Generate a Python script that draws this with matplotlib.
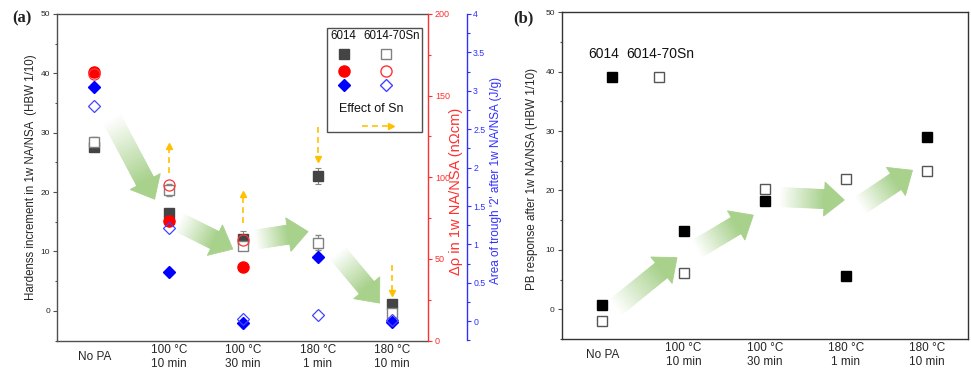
import numpy as np
import matplotlib
matplotlib.use("Agg")
import matplotlib.pyplot as plt
from matplotlib.patches import Polygon, Rectangle
from matplotlib.ticker import MultipleLocator

plt.rcParams['font.family'] = ['Liberation Sans', 'DejaVu Sans']

# ---------------- data ----------------
categories = ['No PA', '100 °C\n10 min', '100 °C\n30 min', '180 °C\n1 min', '180 °C\n10 min']

# panel (a) – hardness increment (HBW 1/10)
hard_6014 = [27.6, 16.4, 12.1, 22.7, 1.1]
hard_6014_err = [0.3, 0.4, 1.3, 1.4, 0.3]
hard_sn = [28.5, 20.3, 11.0, 11.5, -0.4]
hard_sn_err = [0.7, 1.0, 0.6, 1.2, 0.5]

# panel (a) – resistivity change (nOhm cm)
res_6014 = [164.2, 73.3, 45.0, np.nan, np.nan]
res_sn = [163.0, 95.5, 61.4, np.nan, np.nan]

# panel (a) – area of trough '2' (J/g)
trough_6014 = [3.05, 0.64, -0.02, 0.84, -0.01]
trough_sn = [2.80, 1.21, 0.03, 0.08, 0.02]

# panel (a) – "Effect of Sn" arrows (hardness units)
sn_x = [1, 2, 3, 4]
sn_from = [23.2, 14.8, 31.0, 7.7]
sn_to = [27.8, 19.6, 25.6, 3.0]

# panel (b) – PB response (HBW 1/10)
pb_6014 = [0.8, 13.2, 18.2, 5.6, 29.0]
pb_sn = [-2.0, 6.1, 20.2, 22.0, 23.2]

# green trend arrows (x in category units, y in left-axis units)
arrows_a = [((0.24, 32.3), (0.81, 18.8)),
            ((1.14, 14.9), (1.86, 10.4)),
            ((2.17, 12.0), (2.87, 13.35)),
            ((3.27, 9.7), (3.83, 1.3))]
arrows_b = [((0.17, 0.4), (0.92, 8.7)),
            ((1.17, 10.2), (1.86, 15.85)),
            ((2.19, 18.9), (2.98, 18.4)),
            ((3.18, 17.5), (3.82, 23.4))]

x = np.arange(len(categories))

# ---------------- figure ----------------
W, H = 971, 372
fig = plt.figure(figsize=(W / 100, H / 100), dpi=100)

def px_ax(l, t, r, b):
    return fig.add_axes([l / W, 1 - b / H, (r - l) / W, (b - t) / H])

axA = px_ax(57, 14, 428, 340.5)
axB = px_ax(561.7, 12.3, 967.7, 339)

GREEN = np.array([0.66, 0.82, 0.55])
SPINE = '#505050'
TXT = '#262626'


def grad_arrow(ax, p0, p1, body=19, head_w=34, head_l=20, n=40):
    T = ax.transData
    a = T.transform(p0)
    b = T.transform(p1)
    d = b - a
    L = np.hypot(*d)
    u = d / L
    nrm = np.array([-u[1], u[0]])
    base = b - head_l * u
    inv = T.inverted()
    for i in range(n):
        t0 = i / n
        t1 = (i + 1) / n
        s0 = a + (base - a) * t0
        s1 = a + (base - a) * t1
        pts = np.array([s0 + nrm * body / 2, s1 + nrm * body / 2,
                        s1 - nrm * body / 2, s0 - nrm * body / 2])
        f = (i + 0.5) / n
        col = (1 - f) * np.array([1, 1, 1]) + f * GREEN
        ax.add_patch(Polygon(inv.transform(pts), closed=True, facecolor=col,
                             edgecolor=col, lw=0.6, zorder=0.5))
    pts = np.array([base + nrm * head_w / 2, b, base - nrm * head_w / 2])
    ax.add_patch(Polygon(inv.transform(pts), closed=True, facecolor=GREEN,
                         edgecolor=GREEN, lw=0.6, zorder=0.5))


def style_main(ax):
    ax.set_xlim(-0.5, 4.48)
    ax.set_ylim(-5, 50)
    ax.yaxis.set_major_locator(MultipleLocator(10))
    ax.yaxis.set_minor_locator(MultipleLocator(5))
    ax.tick_params(axis='y', which='major', direction='out', length=3, width=0.8,
                   colors=SPINE, labelsize=6, labelcolor=TXT, pad=2)
    ax.tick_params(axis='y', which='minor', direction='out', length=1.8, width=0.8, colors=SPINE)
    ax.set_xticks([])
    for s in ax.spines.values():
        s.set_color(SPINE)
        s.set_linewidth(1.0)
    for xi, lab in zip(x, categories):
        ax.text(xi, -0.05, lab, transform=ax.get_xaxis_transform(), ha='center',
                va='center', fontsize=8.5, color=TXT, linespacing=1.2)

# ================= panel (a) =================
style_main(axA)
axA.set_xlim(-0.5, 4.48)
axA.spines['right'].set_visible(False)

axR = axA.twinx()
axBl = axA.twinx()
axR.set_ylim(0, 200)
axBl.set_ylim(-0.25, 4)
axBl.spines['right'].set_position(('outward', 28))
for t in (axR, axBl):
    for k in ('left', 'top', 'bottom'):
        t.spines[k].set_visible(False)
axR.spines['right'].set_color('#ff3030')
axR.spines['right'].set_linewidth(1.0)
axBl.spines['right'].set_color('#3030ff')
axBl.spines['right'].set_linewidth(1.0)
axR.yaxis.set_major_locator(MultipleLocator(50))
axR.yaxis.set_minor_locator(MultipleLocator(25))
axR.tick_params(axis='y', which='major', length=3, width=0.8, colors='#ff3030', labelsize=6.5, pad=2)
axR.tick_params(axis='y', which='minor', length=1.8, width=0.8, colors='#ff3030')
axBl.yaxis.set_major_locator(MultipleLocator(0.5))
axBl.yaxis.set_minor_locator(MultipleLocator(0.25))
axBl.set_yticks(np.arange(0, 4.01, 0.5))
axBl.set_yticklabels(['0', '0.5', '1', '1.5', '2', '2.5', '3', '3.5', '4'])
axBl.tick_params(axis='y', which='major', length=3, width=0.8, colors='#3030ff', labelsize=6.3, pad=1.5)
axBl.tick_params(axis='y', which='minor', length=1.8, width=0.8, colors='#3030ff')

# arrows
for p0, p1 in arrows_a:
    grad_arrow(axA, p0, p1)

# hardness squares
axA.errorbar(x, hard_6014, yerr=hard_6014_err, fmt='s', ms=7, mfc='#444444', mec='#444444',
             ecolor='#888888', elinewidth=0.8, capsize=2.5, capthick=0.8, zorder=3)
axA.errorbar(x, hard_sn, yerr=hard_sn_err, fmt='s', ms=7, mfc='white', mec='#808080', mew=1.0,
             ecolor='#888888', elinewidth=0.8, capsize=2.5, capthick=0.8, zorder=4)

# effect of Sn arrows
ORANGE = '#ffc000'
for xi, y0, y1 in zip(sn_x, sn_from, sn_to):
    axA.plot([xi, xi], [y0, y1], ls=(0, (3.5, 2.5)), color=ORANGE, lw=1.2, zorder=2)
    axA.plot(xi, y1, marker='^' if y1 > y0 else 'v', ms=4.5, color=ORANGE, mec=ORANGE, zorder=2)

# resistivity circles
axR.plot(x, res_6014, 'o', ms=8, mfc='#ff0000', mec='#ff0000', ls='none', zorder=3)
axR.plot(x, res_sn, 'o', ms=8, mfc='none', mec='#ff3333', mew=0.9, ls='none', zorder=4)

# trough diamonds
axBl.plot(x, trough_6014, 'D', ms=6.2, mfc='#0000ff', mec='#0000ff', ls='none', zorder=3)
axBl.plot(x, trough_sn, 'D', ms=6.2, mfc='none', mec='#4444ff', mew=0.9, ls='none', zorder=4)

# axis labels
axA.text(-0.07, 0.5, 'Hardenss increment in 1w NA/NSA  (HBW 1/10)', transform=axA.transAxes,
         rotation=90, ha='center', va='center', fontsize=8.3, color=TXT)
axA.text(1.076, 0.458, 'Δρ in 1w NA/NSA (nΩcm)', transform=axA.transAxes,
         rotation=90, ha='center', va='center', fontsize=10.5, color='#ff3030')
axA.text(1.182, 0.49, "Area of trough '2' after 1w NA/NSA (J/g)", transform=axA.transAxes,
         rotation=90, ha='center', va='center', fontsize=8.5, color='#3030ff')

# legend box (a)
axL = axA
axL.add_patch(Rectangle((0.7286, 0.6395), 0.983 - 0.7286, 0.956 - 0.6395, transform=axA.transAxes,
                        facecolor='white', edgecolor=SPINE, lw=1.0, zorder=6))
axL.text(0.736, 0.9326, '6014', transform=axA.transAxes, fontsize=8.3, ha='left', va='center',
         color='#111111', zorder=7)
axL.text(0.8256, 0.9326, '6014-70Sn', transform=axA.transAxes, fontsize=8.3, ha='left', va='center',
         color='#111111', zorder=7)
c1, c2 = 0.7736, 0.8868
axL.plot([c1], [0.8766], 's', ms=7, mfc='#444444', mec='#444444', transform=axA.transAxes, zorder=7)
axL.plot([c2], [0.8766], 's', ms=7, mfc='white', mec='#808080', transform=axA.transAxes, zorder=7)
axL.plot([c1], [0.8263], 'o', ms=8, mfc='#ff0000', mec='#ff0000', transform=axA.transAxes, zorder=7)
axL.plot([c2], [0.8263], 'o', ms=8, mfc='none', mec='#ff3333', transform=axA.transAxes, zorder=7)
axL.plot([c1], [0.7816], 'D', ms=6.2, mfc='#0000ff', mec='#0000ff', transform=axA.transAxes, zorder=7)
axL.plot([c2], [0.7816], 'D', ms=6.2, mfc='none', mec='#4444ff', transform=axA.transAxes, zorder=7)
axL.text(0.761, 0.7081, 'Effect of Sn', transform=axA.transAxes, fontsize=9, ha='left', va='center',
         color='#111111', zorder=7)
axL.plot([0.8213, 0.897], [0.657, 0.657], ls=(0, (3.5, 2.5)), color=ORANGE, lw=1.2,
         transform=axA.transAxes, zorder=7)
axL.plot([0.899], [0.657], '>', ms=4.5, color=ORANGE, transform=axA.transAxes, zorder=7)

fig.text(12 / W, 1 - 18 / H, '(a)', fontsize=12, fontweight='bold', family='Liberation Serif',
         ha='left', va='center', color='#222222')

# ================= panel (b) =================
style_main(axB)
axB.set_xlim(-0.5, 4.5)
for s in axB.spines.values():
    s.set_color('#333333')
for p0, p1 in arrows_b:
    grad_arrow(axB, p0, p1)
axB.plot(x, pb_6014, 's', ms=7, mfc='black', mec='black', ls='none', zorder=3)
axB.plot(x, pb_sn, 's', ms=7, mfc='white', mec='#555555', mew=1.0, ls='none', zorder=3)
axB.text(-0.074, 0.49, 'PB response after 1w NA/NSA (HBW 1/10)', transform=axB.transAxes,
         rotation=90, ha='center', va='center', fontsize=8.4, color=TXT)
axB.text(-0.17, 43.0, '6014', fontsize=10, ha='left', va='center', color='#111111')
axB.text(0.30, 43.0, '6014-70Sn', fontsize=10, ha='left', va='center', color='#111111')
axB.plot([0.12], [39.1], 's', ms=7, mfc='black', mec='black', zorder=3)
axB.plot([0.70], [39.1], 's', ms=7, mfc='white', mec='#555555', zorder=3)

fig.text(513 / W, 1 - 18 / H, '(b)', fontsize=12, fontweight='bold', family='Liberation Serif',
         ha='left', va='center', color='#222222')

fig.savefig('out.png', dpi=100)
